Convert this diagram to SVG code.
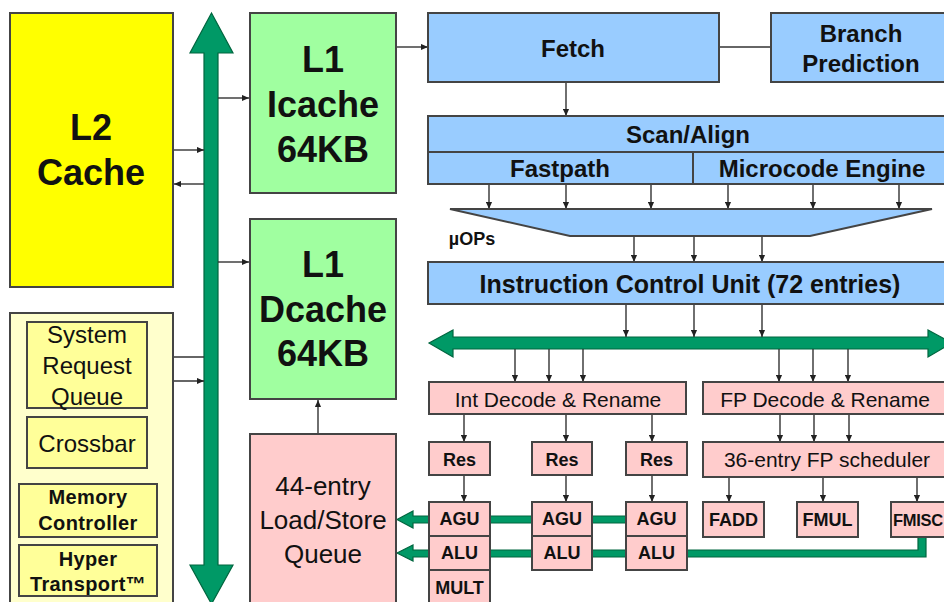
<svg xmlns="http://www.w3.org/2000/svg" width="944" height="602" viewBox="0 0 944 602">
<defs>
<marker id="ah" viewBox="0 0 8 8" refX="8" refY="4" markerWidth="7" markerHeight="7" markerUnits="userSpaceOnUse" orient="auto">
<path d="M0,0.5 L8,4 L0,7.5 Z" fill="#222"/>
</marker>
<style>
text{font-family:"Liberation Sans",Arial,sans-serif;fill:#111;text-anchor:middle}
.b{font-weight:bold}
.box{stroke:#444;stroke-width:2}
.y{fill:#FFFF00}
.ly{fill:#FFFFCC}
.my{fill:#FFFF99}
.g{fill:#A0FFA0}
.bl{fill:#99CCFF}
.pk{fill:#FFCCCC}
.bus{fill:#009966;stroke:#00663F;stroke-width:1.2}
.c line{stroke:#333;stroke-width:1.4;marker-end:url(#ah)}
.c line.n{marker-end:none}
.big{font-size:36px;font-weight:bold}
.m{font-size:24px;font-weight:bold}
.r21{font-size:21px}
.s{font-size:18px;font-weight:bold}
</style>
</defs>
<rect width="944" height="602" fill="#fff"/>

<g id="buses">
<polygon class="bus" points="211.5,13 233,53 218,53 218,565 233,565 211.5,604 190,565 204,565 204,53 190,53"/>
<polygon class="bus" points="429,343 453,330 453,337 928,337 928,330 952,343 928,357 928,349 453,349 453,357"/>
<polygon class="bus" points="397,519.5 413,511 413,516 626,516 626,523 413,523 413,528"/>
<polygon class="bus" points="397,553 413,545 413,550 918,550 918,536 926,536 926,557 413,557 413,561"/>
</g>

<g id="connectors" class="c">
<line x1="218" y1="98" x2="249" y2="98"/>
<line x1="173" y1="150" x2="204" y2="150"/>
<line x1="204" y1="184" x2="174" y2="184"/>
<line x1="218" y1="262" x2="249" y2="262"/>
<line x1="204" y1="357" x2="148" y2="357"/>
<line x1="148" y1="381" x2="204" y2="381"/>
<line x1="318" y1="434" x2="318" y2="400"/>
<line x1="396" y1="47" x2="428" y2="47"/>
<line class="n" x1="719" y1="47" x2="771" y2="47"/>
<line x1="566" y1="82" x2="566" y2="116"/>
<line x1="489" y1="185" x2="489" y2="209"/>
<line x1="566" y1="185" x2="566" y2="209"/>
<line x1="651" y1="185" x2="651" y2="209"/>
<line x1="728" y1="185" x2="728" y2="209"/>
<line x1="813" y1="185" x2="813" y2="209"/>
<line x1="899" y1="185" x2="899" y2="209"/>
<line x1="634" y1="236" x2="634" y2="262"/>
<line x1="694" y1="236" x2="694" y2="262"/>
<line x1="762" y1="236" x2="762" y2="262"/>
<line x1="626" y1="304" x2="626" y2="337"/>
<line x1="694" y1="304" x2="694" y2="337"/>
<line x1="762" y1="304" x2="762" y2="337"/>
<line x1="515" y1="349" x2="515" y2="382"/>
<line x1="549" y1="349" x2="549" y2="382"/>
<line x1="583" y1="349" x2="583" y2="382"/>
<line x1="779" y1="349" x2="779" y2="382"/>
<line x1="813" y1="349" x2="813" y2="382"/>
<line x1="848" y1="349" x2="848" y2="382"/>
<line x1="464" y1="414" x2="464" y2="442"/>
<line x1="566" y1="414" x2="566" y2="442"/>
<line x1="652" y1="414" x2="652" y2="442"/>
<line x1="780" y1="414" x2="780" y2="442"/>
<line x1="814" y1="414" x2="814" y2="442"/>
<line x1="849" y1="414" x2="849" y2="442"/>
<line x1="464" y1="475" x2="464" y2="502"/>
<line x1="566" y1="475" x2="566" y2="502"/>
<line x1="652" y1="475" x2="652" y2="502"/>
<line x1="729" y1="477" x2="729" y2="502"/>
<line x1="823" y1="477" x2="823" y2="502"/>
<line x1="917" y1="477" x2="917" y2="502"/>
</g>

<g id="l2">
<rect class="box y" x="10" y="13" width="163" height="274"/>
<text class="big" x="91" y="140">L2</text>
<text class="big" x="91" y="185">Cache</text>
</g>

<g id="northbridge">
<rect class="box ly" x="10" y="313" width="163" height="300"/>
</g>
<g id="srq">
<rect class="box my" x="27" y="322" width="120" height="86"/>
<text x="87" y="343" font-size="24">System</text>
<text x="87" y="374" font-size="24">Request</text>
<text x="87" y="405" font-size="24">Queue</text>
</g>
<g id="crossbar">
<rect class="box my" x="27" y="417" width="120" height="51"/>
<text x="87" y="452" font-size="24">Crossbar</text>
</g>
<g id="memctrl">
<rect class="box my" x="19" y="484" width="138" height="53"/>
<text class="b" x="88" y="504" font-size="20" letter-spacing="0.4">Memory</text>
<text class="b" x="88" y="530" font-size="20" letter-spacing="0.4">Controller</text>
</g>
<g id="hypertransport">
<rect class="box my" x="19" y="545" width="138" height="51"/>
<text class="b" x="88" y="566" font-size="20" letter-spacing="0.4">Hyper</text>
<text class="b" x="88" y="591" font-size="20" letter-spacing="0.4">Transport™</text>
</g>

<g id="icache">
<rect class="box g" x="250" y="13" width="146" height="180"/>
<text class="big" x="323" y="72">L1</text>
<text class="big" x="323" y="117">Icache</text>
<text class="big" x="323" y="162">64KB</text>
</g>
<g id="dcache">
<rect class="box g" x="250" y="219" width="146" height="180"/>
<text class="big" x="323" y="277">L1</text>
<text class="big" x="323" y="322">Dcache</text>
<text class="big" x="323" y="366">64KB</text>
</g>
<g id="lsq">
<rect class="box pk" x="250" y="434" width="146" height="180"/>
<text x="323" y="495" font-size="26">44-entry</text>
<text x="323" y="529" font-size="26">Load/Store</text>
<text x="323" y="563" font-size="26">Queue</text>
</g>

<g id="fetch">
<rect class="box bl" x="428" y="13" width="291" height="69"/>
<text class="m" x="573" y="57">Fetch</text>
</g>
<g id="branch">
<rect class="box bl" x="771" y="13" width="182" height="69"/>
<text class="m" x="861" y="42">Branch</text>
<text class="m" x="861" y="72">Prediction</text>
</g>
<g id="scanalign">
<rect class="box bl" x="428" y="116" width="522" height="36"/>
<text class="m" x="688" y="143">Scan/Align</text>
</g>
<g id="fastpath">
<rect class="box bl" x="428" y="152" width="265" height="32"/>
<text class="m" x="560" y="177">Fastpath</text>
</g>
<g id="microcode">
<rect class="box bl" x="693" y="152" width="257" height="32"/>
<text class="m" x="822" y="177">Microcode Engine</text>
</g>
<g id="uops">
<polygon class="box bl" points="450,209 932,209 810,236 570,236"/>
<text class="b" x="472" y="245" font-size="18">µOPs</text>
</g>
<g id="icu">
<rect class="box bl" x="428" y="262" width="522" height="42"/>
<text class="b" x="690" y="293" font-size="25">Instruction Control Unit (72 entries)</text>
</g>

<g id="intdecode">
<rect class="box pk" x="429" y="382" width="257" height="32"/>
<text class="r21" x="558" y="407">Int Decode &amp; Rename</text>
</g>
<g id="fpdecode">
<rect class="box pk" x="703" y="382" width="250" height="32"/>
<text class="r21" x="825" y="407">FP Decode &amp; Rename</text>
</g>
<g id="res1">
<rect class="box pk" x="429" y="442" width="61" height="33"/>
<text class="s" x="459.5" y="466">Res</text>
</g>
<g id="res2">
<rect class="box pk" x="532" y="442" width="60" height="33"/>
<text class="s" x="562" y="466">Res</text>
</g>
<g id="res3">
<rect class="box pk" x="626" y="442" width="61" height="33"/>
<text class="s" x="656.5" y="466">Res</text>
</g>
<g id="fpsched">
<rect class="box pk" x="703" y="442" width="250" height="35"/>
<text class="r21" x="827" y="467">36-entry FP scheduler</text>
</g>

<g id="agu1"><rect class="box pk" x="429" y="502" width="61" height="34"/><text class="s" x="459.5" y="525">AGU</text></g>
<g id="alu1"><rect class="box pk" x="429" y="536" width="61" height="34"/><text class="s" x="459.5" y="559">ALU</text></g>
<g id="mult"><rect class="box pk" x="429" y="570" width="61" height="40"/><text class="s" x="459.5" y="594">MULT</text></g>
<g id="agu2"><rect class="box pk" x="532" y="502" width="60" height="34"/><text class="s" x="562" y="525">AGU</text></g>
<g id="alu2"><rect class="box pk" x="532" y="536" width="60" height="34"/><text class="s" x="562" y="559">ALU</text></g>
<g id="agu3"><rect class="box pk" x="626" y="502" width="61" height="34"/><text class="s" x="656.5" y="525">AGU</text></g>
<g id="alu3"><rect class="box pk" x="626" y="536" width="61" height="34"/><text class="s" x="656.5" y="559">ALU</text></g>
<g id="fadd"><rect class="box pk" x="703" y="502" width="61" height="35"/><text class="s" x="733.5" y="526">FADD</text></g>
<g id="fmul"><rect class="box pk" x="797" y="502" width="61" height="35"/><text class="s" x="827.5" y="526">FMUL</text></g>
<g id="fmisc"><rect class="box pk" x="891" y="502" width="62" height="35"/><text class="b" x="893" y="526" font-size="16.5" letter-spacing="-0.3" style="text-anchor:start">FMISC</text></g>
</svg>
